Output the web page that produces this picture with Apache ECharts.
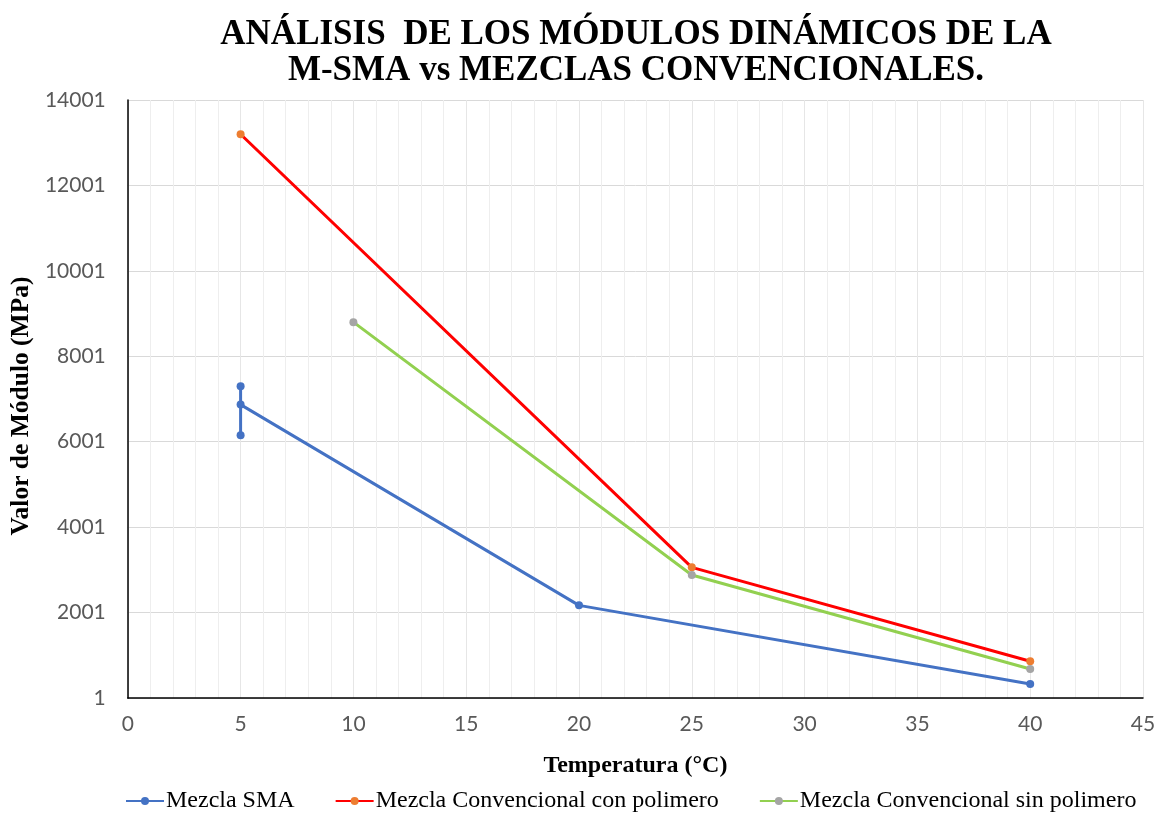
<!DOCTYPE html>
<html>
<head>
<meta charset="utf-8">
<script src="https://cdn.jsdelivr.net/npm/echarts@6/dist/echarts.min.js"></script>
<style>
  html, body { margin: 0; padding: 0; background: #fff; }
  #main { width: 1175px; height: 814px; }
</style>
</head>
<body>
<div id="main"></div>
<script>
// datos
var smaData = [[5, 7300], [5, 6150], [5, 6870], [20, 2170], [40, 330]];
var conPolimero = [[5, 13200], [25, 3060], [40, 860]];
var sinPolimero = [[10, 8800], [25, 2880], [40, 680]];
var yTicks = [1, 2001, 4001, 6001, 8001, 10001, 12001, 14001];
var xTicks = [0, 5, 10, 15, 20, 25, 30, 35, 40, 45];

var chart = echarts.init(document.getElementById('main'));

var option = {
    backgroundColor: '#fff',
    animation: false,
    title: {
        text: 'ANÁLISIS  DE LOS MÓDULOS DINÁMICOS DE LA\nM-SMA vs MEZCLAS CONVENCIONALES.',
        left: 631,
        top: 12,
        textAlign: 'center',
        textStyle: {
            fontFamily: 'Liberation Serif',
            fontWeight: 'bold',
            fontSize: 35,
            lineHeight: 36,
            color: '#000'
        }
    },
    legend: {
        bottom: 1,
        left: 125,
        padding: 0,
        itemGap: 40,
        itemWidth: 38,
        itemHeight: 10,
        textStyle: { fontFamily: 'Liberation Serif', fontSize: 24, color: '#000', padding: [0, 0, 0, -3] },
        data: ['Mezcla SMA', 'Mezcla Convencional con polimero', 'Mezcla Convencional sin polimero']
    },
    grid: { left: 127, right: 32, top: 100, bottom: 116 },
    xAxis: [{
        type: 'value',
        min: xTicks[0],
        max: xTicks[xTicks.length - 1],
        interval: 5,
        name: 'Temperatura (°C)',
        nameLocation: 'middle',
        nameGap: 56,
        nameTextStyle: { fontFamily: 'Liberation Serif', fontWeight: 'bold', fontSize: 24, color: '#000' },
        axisLine: { onZero: false, lineStyle: { color: '#000', width: 1.5 } },
        axisTick: { show: false },
        axisLabel: { fontFamily: 'Lato', fontSize: 21, color: '#595959', margin: 16 },
        splitLine: { show: true, lineStyle: { color: '#e6e6e6' } },
        minorTick: { show: false, splitNumber: 5 },
        minorSplitLine: { show: true, lineStyle: { color: '#eeeeee' } }
    }],
    yAxis: [{
        type: 'value',
        min: yTicks[0],
        max: yTicks[yTicks.length - 1],
        interval: 2000,
        name: 'Valor de Módulo (MPa)',
        nameLocation: 'middle',
        nameGap: 93,
        nameTextStyle: {
            fontFamily: 'Liberation Serif', fontWeight: 'bold', fontSize: 25.5, color: '#000',
            padding: [0, 14, 0, 0]
        },
        axisLine: { show: true, lineStyle: { color: '#000', width: 1.5 } },
        axisTick: { show: false },
        axisLabel: {
            fontFamily: 'Lato', fontSize: 21, color: '#595959', margin: 22,
            formatter: function (v) { return String(v); }
        },
        splitLine: { show: true, lineStyle: { color: '#d9d9d9' } }
    }],
    series: [
        {
            name: 'Mezcla SMA',
            type: 'line',
            data: smaData,
            symbol: 'circle',
            symbolSize: 8,
            lineStyle: { color: '#4472c4', width: 3 },
            itemStyle: { color: '#4472c4' },
            z: 3
        },
        {
            name: 'Mezcla Convencional con polimero',
            type: 'line',
            data: conPolimero,
            symbol: 'circle',
            symbolSize: 8,
            lineStyle: { color: '#ff0000', width: 3 },
            itemStyle: { color: '#ed7d31' },
            z: 2
        },
        {
            name: 'Mezcla Convencional sin polimero',
            type: 'line',
            data: sinPolimero,
            symbol: 'circle',
            symbolSize: 8,
            lineStyle: { color: '#92d050', width: 3 },
            itemStyle: { color: '#a5a5a5' },
            z: 2
        }
    ]
};
chart.setOption(option);
</script>
</body>
</html>
